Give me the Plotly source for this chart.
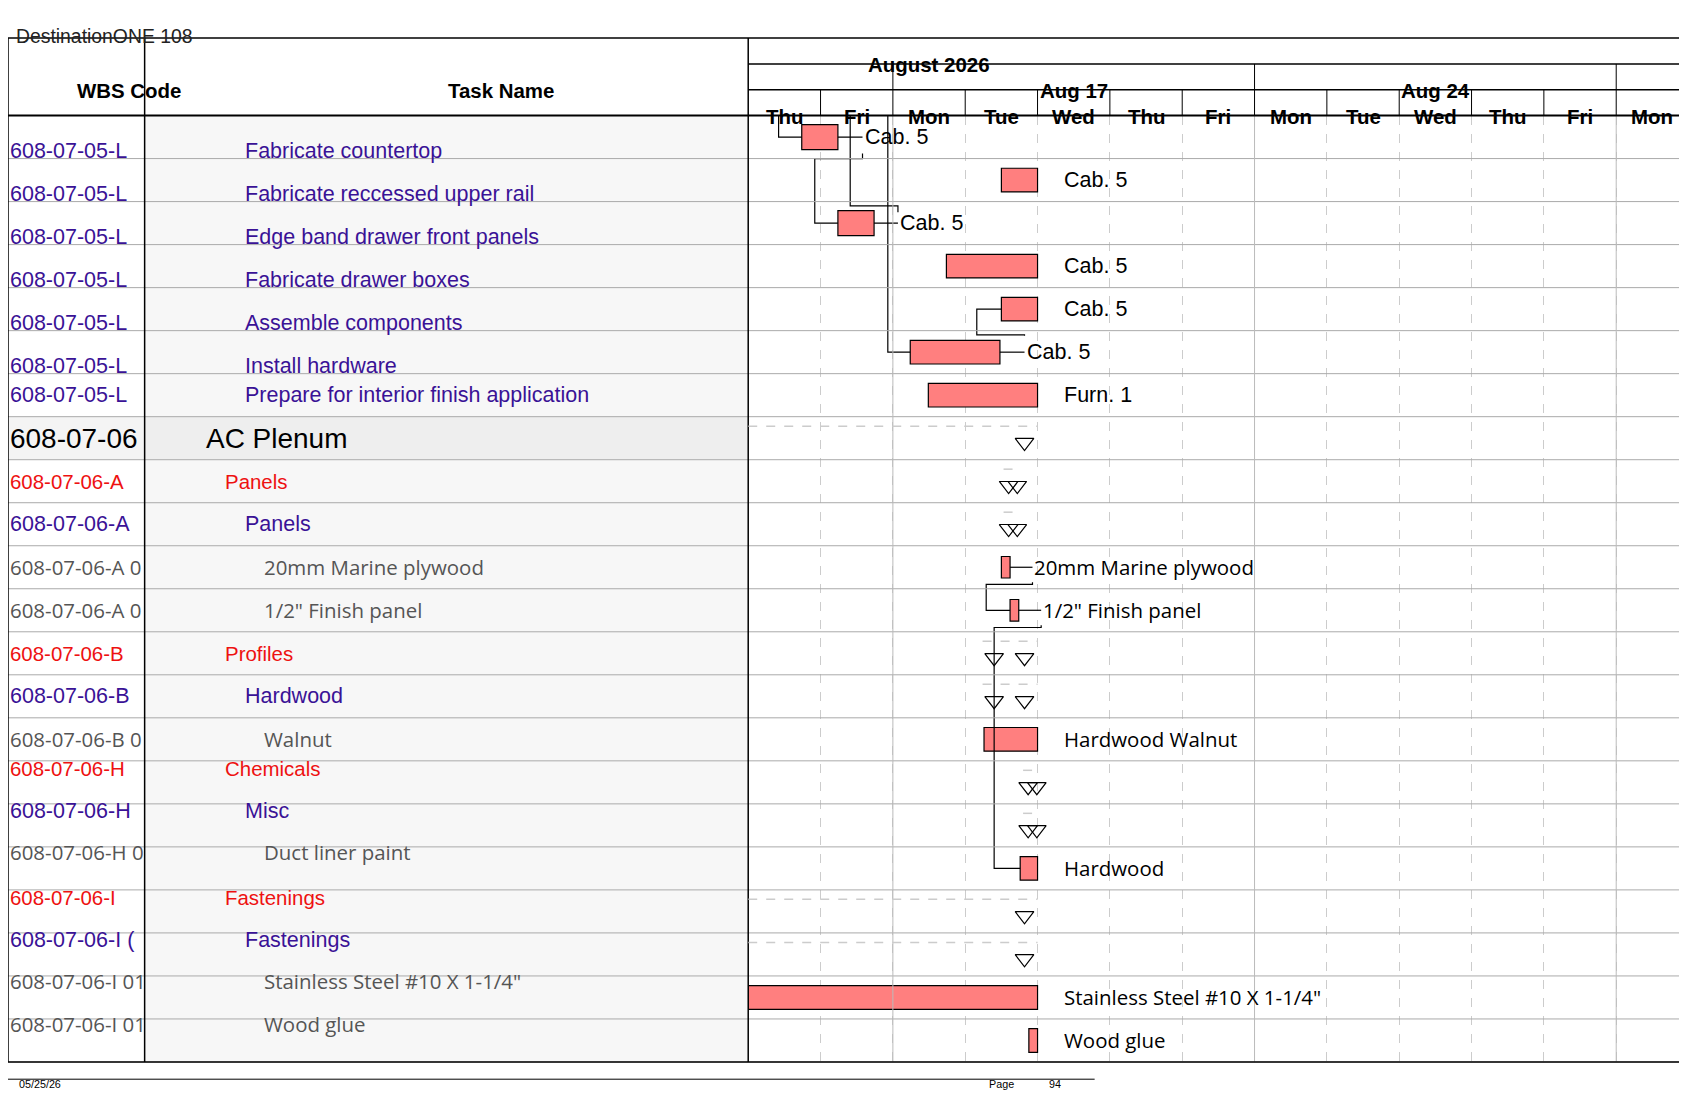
import plotly.graph_objects as go

# ---- data ----
wbs = ["608-07-05-L"] * 7 + ["608-07-06", "608-07-06-A", "608-07-06-A", "608-07-06-A 0", "608-07-06-A 0",
       "608-07-06-B", "608-07-06-B", "608-07-06-B 0", "608-07-06-H", "608-07-06-H", "608-07-06-H 0",
       "608-07-06-I", "608-07-06-I (", "608-07-06-I 01", "608-07-06-I 01"]
tasks = ["Fabricate countertop", "Fabricate reccessed upper rail", "Edge band drawer front panels",
         "Fabricate drawer boxes", "Assemble components", "Install hardware",
         "Prepare for interior finish application", "AC Plenum", "Panels", "Panels",
         "20mm Marine plywood", "1/2\" Finish panel", "Profiles", "Hardwood", "Walnut", "Chemicals",
         "Misc", "Duct liner paint", "Fastenings", "Fastenings", "Stainless Steel #10 X 1-1/4\"", "Wood glue"]
levels = ["task"] * 7 + ["top", "group", "sub", "item", "item", "group", "sub", "item", "group", "sub", "item",
                         "group", "sub", "item", "item"]

# bars: row, start, end (working days from Thu Aug 13), label, label x
bar_rows = [0, 1, 2, 3, 4, 5, 6, 10, 11, 14, 17, 20, 21]
bar_start = [0.74, 3.5, 1.24, 2.74, 3.5, 2.24, 2.49, 3.5, 3.62, 3.26, 3.76, 0.0, 3.88]
bar_end = [1.24, 4.0, 1.74, 4.0, 4.0, 3.48, 4.0, 3.62, 3.74, 4.0, 4.0, 4.0, 4.0]
bar_width = [0.58, 0.55, 0.58, 0.55, 0.55, 0.55, 0.55, 0.5, 0.5, 0.55, 0.55, 0.55, 0.55]
bar_labels = ["Cab. 5", "Cab. 5", "Cab. 5", "Cab. 5", "Cab. 5", "Cab. 5", "Furn. 1",
              "20mm Marine plywood", "1/2\" Finish panel", "Hardwood Walnut", "Hardwood",
              "Stainless Steel #10 X 1-1/4\"", "Wood glue"]
label_x = [1.58, 4.34, 2.07, 4.34, 4.34, 3.82, 4.34, 3.93, 4.05, 4.34, 4.34, 4.34, 4.34]

# summary markers
single_rows = [7, 12, 12, 13, 13, 18, 19]
single_x = [3.82, 3.4, 3.82, 3.4, 3.82, 3.82, 3.82]
double_rows = [8, 9, 15, 16]
double_x = [3.6, 3.6, 3.87, 3.87]

# link lines (day, row) polylines
links = [
    [(0.42, 0.0), (0.42, 0.5), (0.74, 0.5)],
    [(1.24, 0.5), (1.58, 0.5)],
    [(1.58, 0.88), (1.58, 1.0), (0.92, 1.0), (0.92, 2.5), (1.24, 2.5)],
    [(1.41, 0.0), (1.41, 2.1), (2.07, 2.1), (2.07, 2.25)],
    [(1.74, 2.5), (2.07, 2.5)],
    [(1.93, 0.0), (1.93, 5.5), (2.24, 5.5)],
    [(3.48, 5.5), (3.82, 5.5)],
    [(3.82, 5.12), (3.82, 5.1), (3.16, 5.1), (3.16, 4.5), (3.5, 4.5)],
    [(3.62, 10.5), (3.93, 10.5)],
    [(3.93, 10.85), (3.93, 10.9), (3.29, 10.9), (3.29, 11.5), (3.62, 11.5)],
    [(3.74, 11.5), (4.05, 11.5)],
    [(4.05, 11.85), (4.05, 11.9), (3.4, 11.9), (3.4, 17.5), (3.76, 17.5)],
]
# dashed summary spans: row, start, end
span_rows = [7, 8, 9, 12, 13, 15, 16, 18, 19]
span_start = [0.0, 3.53, 3.53, 3.24, 3.24, 3.8, 3.8, 0.0, 0.0]
span_end = [4.0, 3.7, 3.7, 4.0, 4.0, 3.98, 3.98, 4.0, 4.0]

days = ["Thu", "Fri", "Mon", "Tue", "Wed", "Thu", "Fri", "Mon", "Tue", "Wed", "Thu", "Fri", "Mon"]
weeks = ["Aug 17", "Aug 24"]
week_start = [2, 7]
week_end = [7, 12]
month = "August 2026"

# ---- geometry (measured on a 1568x1020 frame) ----
W, H = 1687, 1097
W0, H0 = 1568.0, 1020.0
k = W / W0
def px(x): return x / W0
def py(y): return 1 - y / H0
N = len(tasks)
G0, G1 = 688, 1562
ROW0, ROWH = 100, 40

fig = go.Figure()
colors = {"task": "#3a1296", "top": "#000000", "group": "#ee1111", "sub": "#3a1296", "item": "#555555"}
indent = {"task": 218, "top": 182, "group": 200, "sub": 218, "item": 236}
fsize = {"task": 20, "top": 26, "group": 19, "sub": 20, "item": 19}
ffam = {"task": "Liberation Sans, Arial", "top": "Liberation Sans, Arial", "group": "Liberation Sans, Arial",
        "sub": "Liberation Sans, Arial", "item": "Open Sans"}

shapes, ann = [], []
# name column background
for i in range(N):
    y0, y1 = ROW0 + ROWH * i, ROW0 + ROWH * (i + 1)
    shapes.append(dict(type="rect", xref="paper", yref="paper", x0=px(127), x1=px(688), y0=py(y1), y1=py(y0),
                       fillcolor="#eeeeee" if levels[i] == "top" else "#f7f7f7", line_width=0, layer="below"))
    if levels[i] == "top":
        shapes.append(dict(type="rect", xref="paper", yref="paper", x0=px(0), x1=px(127), y0=py(y1), y1=py(y0),
                           fillcolor="#f4f4f4", line_width=0, layer="below"))
    lv = levels[i]
    ann.append(dict(x=px(0), y=py(y0 + 20), xref="paper", yref="paper", text=wbs[i], showarrow=False,
                    xanchor="left", font=dict(size=fsize[lv] * k, color=colors[lv], family=ffam[lv])))
    ann.append(dict(x=px(indent[lv]), y=py(y0 + 20), xref="paper", yref="paper", text=tasks[i], showarrow=False,
                    xanchor="left", font=dict(size=fsize[lv] * k, color=colors[lv], family=ffam[lv])))
    shapes.append(dict(type="line", xref="paper", yref="paper", x0=0, x1=px(1565), y0=py(y1), y1=py(y1),
                       line=dict(color="#aaaaaa", width=1)))

# header
hf = dict(size=19 * k, family="Liberation Sans, Arial", color="black")
ann.append(dict(x=px(6), y=py(14), xref="paper", yref="paper", text="DestinationONE 108", showarrow=False,
                xanchor="left", font=dict(size=18 * k, family="Liberation Sans, Arial", color="#222")))
ann.append(dict(x=px(62), y=py(64), xref="paper", yref="paper", text="<b>WBS Code</b>", showarrow=False, font=hf))
ann.append(dict(x=px(407), y=py(64), xref="paper", yref="paper", text="<b>Task Name</b>", showarrow=False, font=hf))
ann.append(dict(x=2.5, y=py(40), xref="x", yref="paper", text="<b>" + month + "</b>", showarrow=False, font=hf))
for w, s, e in zip(weeks, week_start, week_end):
    ann.append(dict(x=(s + e) / 2, y=py(64), xref="x", yref="paper", text="<b>" + w + "</b>", showarrow=False, font=hf))
for d, name in enumerate(days):
    ann.append(dict(x=d + 0.5, y=py(88), xref="x", yref="paper", text="<b>" + name + "</b>", showarrow=False, font=hf))
    if d > 0:
        shapes.append(dict(type="line", xref="x", yref="paper", x0=d, x1=d, y0=py(100), y1=py(76),
                           line=dict(color="black", width=1)))
for s in week_start + [12]:
    shapes.append(dict(type="line", xref="x", yref="paper", x0=s, x1=s, y0=py(76), y1=py(52),
                       line=dict(color="black", width=1)))
    shapes.append(dict(type="line", xref="x", yref="paper", x0=s, x1=s, y0=py(980), y1=py(100),
                       line=dict(color="#bbbbbb", width=1)))
for yy, w in [(28, 1.5), (52, 1.5), (76, 1.5), (100, 2)]:
    x0 = 0 if yy in (28, 100) else px(688)
    shapes.append(dict(type="line", xref="paper", yref="paper", x0=x0, x1=px(1565), y0=py(yy), y1=py(yy),
                       line=dict(color="black", width=w)))
for xx in [0, 127, 688]:
    shapes.append(dict(type="line", xref="paper", yref="paper", x0=px(xx), x1=px(xx), y0=py(980), y1=py(28),
                       line=dict(color="black", width=1.5)))
shapes.append(dict(type="line", xref="paper", yref="paper", x0=px(1565), x1=px(1565), y0=py(100), y1=py(28),
                   line=dict(color="black", width=1.5)))
shapes.append(dict(type="line", xref="paper", yref="paper", x0=px(1565), x1=px(1565), y0=py(980), y1=py(100),
                   line=dict(color="#1a1a8c", width=1.5)))
shapes.append(dict(type="line", xref="paper", yref="paper", x0=0, x1=px(1565), y0=py(980), y1=py(980),
                   line=dict(color="black", width=1.5)))
# footer
shapes.append(dict(type="line", xref="paper", yref="paper", x0=0, x1=px(1010), y0=py(996), y1=py(996),
                   line=dict(color="black", width=1)))
ff = dict(size=10 * k, family="Liberation Sans, Arial", color="black")
for t, xx in [("05/25/26", 8), ("Page", 910), ("94", 966)]:
    ann.append(dict(x=px(xx), y=py(1008), xref="paper", yref="paper", text=t, showarrow=False, xanchor="left", font=ff))

# dashed summary spans
for r, s, e in zip(span_rows, span_start, span_end):
    shapes.append(dict(type="line", xref="x", yref="y", x0=s, x1=e, y0=r + 0.22, y1=r + 0.22,
                       line=dict(color="#cccccc", width=1.5, dash="dash")))

# links
for pts in links:
    fig.add_trace(go.Scatter(x=[p[0] for p in pts], y=[p[1] for p in pts], mode="lines",
                             line=dict(color="black", width=1.2), hoverinfo="skip"))

# bars
fig.add_trace(go.Bar(y=[r + 0.5 for r in bar_rows], x=[e - s for s, e in zip(bar_start, bar_end)], base=bar_start,
                     orientation="h", width=bar_width, marker=dict(color="#ff7f7f", line=dict(color="black", width=1.2))))
for r, t, lx in zip(bar_rows, bar_labels, label_x):
    fam = "Liberation Sans, Arial" if t.startswith(("Cab", "Furn")) else "Open Sans"
    ann.append(dict(x=lx, y=r + 0.5, xref="x", yref="y", text=t, showarrow=False, xanchor="left",
                    font=dict(size=20 * k if fam.startswith("Lib") else 19 * k, family=fam, color="black")))

# summary triangles
tri = dict(symbol="triangle-down-open", size=15 * k, color="black", line=dict(width=1.2))
fig.add_trace(go.Scatter(x=single_x, y=[r + 0.6 for r in single_rows], mode="markers", marker=tri))
fig.add_trace(go.Scatter(x=double_x + [v + 0.12 for v in double_x], y=[r + 0.6 for r in double_rows] * 2,
                         mode="markers", marker=tri))

fig.update_layout(
    width=W, height=H, margin=dict(l=0, r=0, t=0, b=0, autoexpand=False), showlegend=False,
    plot_bgcolor="white", paper_bgcolor="white", shapes=shapes, annotations=ann,
    xaxis=dict(domain=[px(G0), px(G1)], range=[0, 13], dtick=1, tick0=0, showgrid=True, griddash="dash",
               gridcolor="#cccccc", showticklabels=False, zeroline=False, ticks="", automargin=False),
    yaxis=dict(domain=[py(ROW0 + ROWH * N), py(ROW0)], range=[N, 0], showgrid=False, showticklabels=False,
               zeroline=False, automargin=False),
)
fig.write_html("out.html")
